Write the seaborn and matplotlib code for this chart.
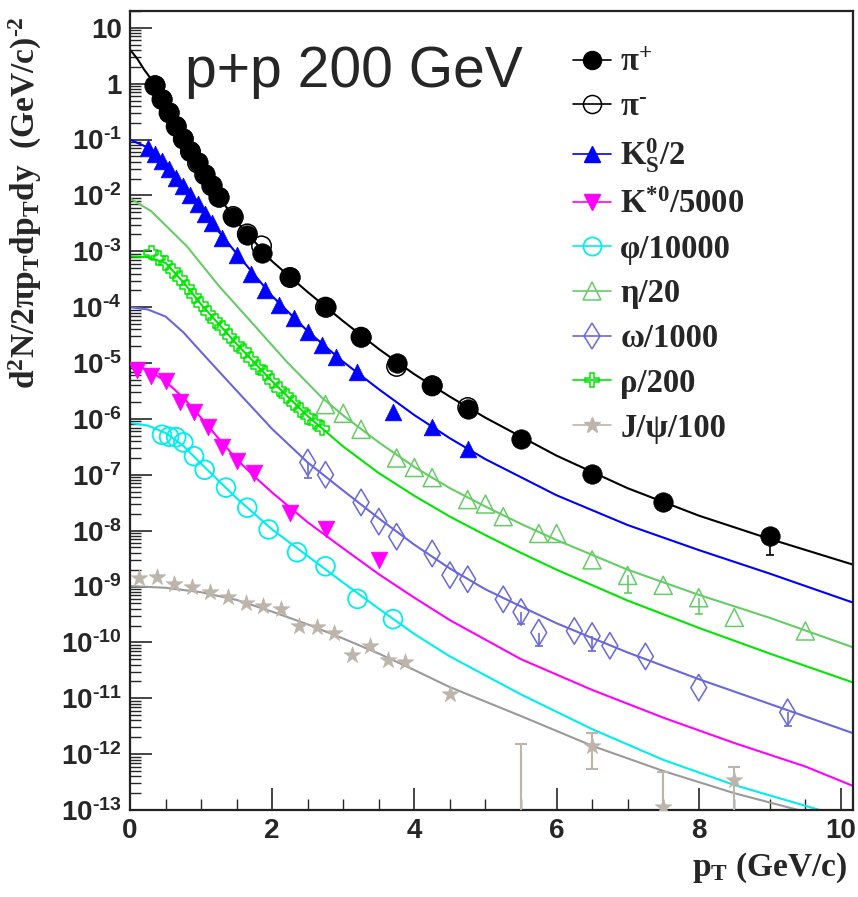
import numpy as np
import pandas as pd
import matplotlib
matplotlib.use("Agg")
import matplotlib.pyplot as plt
import seaborn as sns
from matplotlib.lines import Line2D
from matplotlib.ticker import LogLocator, NullFormatter, MultipleLocator, FixedLocator

# ---------------- data ----------------
pip_pt = [0.35, 0.45, 0.55, 0.65, 0.75, 0.85, 0.95, 1.05, 1.15, 1.25, 1.45, 1.65, 1.85,
          2.25, 2.75, 3.25, 3.75, 4.25, 4.75, 5.5, 6.5, 7.5, 9.0]
pip_y = [0.95, 0.54, 0.31, 0.178, 0.105, 0.063, 0.039, 0.024, 0.0151, 0.0095, 0.0041, 0.00195, 9.5e-4,
         3.5e-4, 1.02e-4, 2.95e-5, 1.0e-5, 4.0e-6, 1.48e-6, 4.3e-7, 1.05e-7, 3.2e-8, 7.9e-9]
pip_elo = [0]*22 + [4.2e-9]

pim_pt = [0.35, 0.45, 0.55, 0.65, 0.75, 0.85, 0.95, 1.05, 1.15, 1.25, 1.45, 1.65, 1.85,
          2.25, 2.75, 3.25, 3.75, 4.25, 4.75]
pim_y = [0.92, 0.52, 0.30, 0.172, 0.102, 0.061, 0.038, 0.0235, 0.0148, 0.0093, 0.0042, 0.00205, 1.25e-3,
         3.4e-4, 1.0e-4, 2.9e-5, 8.7e-6, 3.9e-6, 1.6e-6]

pi_curve_pt = [0, 0.1, 0.2, 0.3, 0.4, 0.6, 0.8, 1.0, 1.25, 1.5, 2.0, 2.5, 3.0, 3.5, 4.0, 4.5, 5.0,
               6.0, 7.0, 8.0, 9.0, 10.2]
pi_curve_y = [4.07, 2.82, 1.78, 1.20, 0.72, 0.24, 0.081, 0.030, 0.0095, 3.4e-3, 6.6e-4, 1.86e-4,
              5.6e-5, 1.78e-5, 6.3e-6, 2.5e-6, 1.05e-6, 2.2e-7, 5.75e-8, 1.86e-8, 7.1e-9, 2.4e-9]

k0s_pt = [0.25, 0.35, 0.45, 0.55, 0.65, 0.75, 0.85, 0.95, 1.05, 1.15, 1.3, 1.5, 1.7, 1.9, 2.1,
          2.3, 2.5, 2.7, 2.9, 3.2, 3.7, 4.25, 4.75]
k0s_y = [0.072, 0.055, 0.041, 0.0295, 0.0209, 0.0145, 0.0100, 0.0069, 0.0047, 0.0032, 1.74e-3,
         8.7e-4, 4.0e-4, 2.04e-4, 1.10e-4, 6.5e-5, 3.6e-5, 2.14e-5, 1.26e-5, 6.8e-6, 1.35e-6,
         7.2e-7, 2.95e-7]
k0s_curve_pt = [0, 0.25, 0.5, 0.75, 1.0, 1.25, 1.5, 2.0, 2.5, 3.0, 3.5, 4.0, 4.5, 5.0, 6.0, 7.0,
                8.0, 9.0, 10.2]
k0s_curve_y = [0.1, 0.072, 0.0347, 0.0145, 5.6e-3, 2.24e-3, 9.1e-4, 1.58e-4, 3.7e-5, 1.05e-5,
               3.4e-6, 1.17e-6, 4.5e-7, 1.9e-7, 4.3e-8, 1.26e-8, 4.5e-9, 1.7e-9, 5.0e-10]

kst_pt = [0.1, 0.3, 0.5, 0.7, 0.9, 1.1, 1.3, 1.5, 1.75, 2.25, 2.75, 3.5]
kst_y = [7.6e-6, 5.8e-6, 4.7e-6, 2.0e-6, 1.35e-6, 7.2e-7, 3.2e-7, 1.74e-7, 1.07e-7, 2.1e-8,
         1.05e-8, 3.0e-9]
kst_curve_pt = [0, 0.25, 0.5, 0.75, 1.0, 1.25, 1.5, 1.75, 2.0, 2.5, 3.0, 3.5, 4.0, 4.5, 5.5,
                6.5, 7.5, 8.5, 9.5, 10.2]
kst_curve_y = [9.5e-6, 7.6e-6, 4.7e-6, 2.4e-6, 1.05e-6, 4.4e-7, 1.9e-7, 9.3e-8, 4.8e-8, 1.41e-8,
               4.8e-9, 1.66e-9, 6.3e-10, 2.5e-10, 5.0e-11, 1.41e-11, 4.5e-12, 1.58e-12,
               6.0e-13, 2.6e-13]

phi_pt = [0.45, 0.55, 0.65, 0.75, 0.9, 1.05, 1.35, 1.65, 1.95, 2.35, 2.75, 3.2, 3.7]
phi_y = [5.2e-7, 4.8e-7, 4.7e-7, 3.8e-7, 2.15e-7, 1.23e-7, 5.9e-8, 2.57e-8, 1.05e-8, 4.1e-9,
         2.3e-9, 6.0e-10, 2.6e-10]
phi_curve_pt = [0, 0.25, 0.5, 0.75, 1.0, 1.5, 2.0, 2.5, 3.0, 3.5, 4.0, 4.5, 5.5, 6.5, 7.5, 8.5,
                9.7, 10.2]
phi_curve_y = [8.5e-7, 7.6e-7, 5.6e-7, 3.3e-7, 1.58e-7, 3.8e-8, 1.05e-8, 3.5e-9, 1.17e-9,
               4.0e-10, 1.41e-10, 5.6e-11, 1.17e-11, 2.8e-12, 7.9e-13, 2.8e-13, 1.0e-13, 6.3e-14]

eta_pt = [2.75, 3.0, 3.25, 3.75, 4.0, 4.25, 4.75, 5.0, 5.25, 5.75, 6.0, 6.5, 7.0, 7.5, 8.0,
          8.5, 9.5]
eta_y = [1.8e-6, 1.26e-6, 6.5e-7, 2.0e-7, 1.35e-7, 8.9e-8, 3.6e-8, 3.0e-8, 1.78e-8, 8.9e-9,
         8.9e-9, 3.0e-9, 1.58e-9, 1.05e-9, 6.3e-10, 2.8e-10, 1.6e-10]
eta_elo = [0]*12 + [8.0e-10, 0, 3.1e-10, 0, 0]
eta_curve_pt = [0, 0.3, 0.8, 1.25, 1.75, 2.2, 2.7, 3.0, 3.5, 4.0, 4.5, 5.0, 5.5, 6.0, 7.0, 8.0,
                9.0, 10.2]
eta_curve_y = [8.9e-3, 5.2e-3, 1.23e-3, 2.4e-4, 4.7e-5, 1.07e-5, 2.4e-6, 1.15e-6, 3.8e-7,
               1.38e-7, 5.75e-8, 2.7e-8, 1.32e-8, 6.8e-9, 2.0e-9, 7.1e-10, 2.75e-10, 7.9e-11]

omega_pt = [2.5, 2.75, 3.25, 3.5, 3.75, 4.25, 4.5, 4.75, 5.25, 5.5, 5.75, 6.25, 6.5, 6.75,
            7.25, 8.0, 9.25]
omega_y = [1.66e-7, 1.0e-7, 3.2e-8, 1.45e-8, 7.8e-9, 3.9e-9, 1.6e-9, 1.35e-9, 5.9e-10, 3.5e-10,
           1.5e-10, 1.6e-10, 1.3e-10, 8.7e-11, 5.6e-11, 1.55e-11, 5.6e-12]
omega_elo = [7.7e-8, 0, 0, 0, 0, 0, 0, 0, 0, 1.4e-10, 6.5e-11, 0, 6.1e-11, 0, 0, 0, 2.4e-12]
omega_curve_pt = [0, 0.25, 0.5, 0.75, 1.0, 1.5, 2.0, 2.5, 3.0, 3.5, 4.0, 4.5, 5.0, 5.5, 6.0,
                  6.5, 7.0, 8.0, 9.0, 10.2]
omega_curve_y = [1.0e-4, 9.1e-5, 6.8e-5, 3.55e-5, 1.58e-5, 3.2e-6, 6.6e-7, 1.66e-7, 5.2e-8,
                 1.66e-8, 5.6e-9, 2.1e-9, 8.9e-10, 4.4e-10, 2.2e-10, 1.2e-10, 6.6e-11, 2.2e-11,
                 7.9e-12, 2.3e-12]

rho_pt = [0.3, 0.4, 0.5, 0.6, 0.7, 0.8, 0.9, 1.0, 1.1, 1.2, 1.3, 1.4, 1.5, 1.6, 1.7, 1.8, 1.9,
          2.0, 2.1, 2.2, 2.3, 2.4, 2.5, 2.6, 2.7]
rho_y = [9.5e-4, 7.6e-4, 6.2e-4, 4.5e-4, 3.3e-4, 2.3e-4, 1.58e-4, 1.12e-4, 7.9e-5, 5.75e-5,
         4.3e-5, 3.0e-5, 2.2e-5, 1.66e-5, 1.17e-5, 8.5e-6, 6.6e-6, 4.7e-6, 3.4e-6, 2.6e-6,
         1.9e-6, 1.45e-6, 1.1e-6, 8.7e-7, 6.8e-7]
rho_curve_pt = [0, 0.25, 0.5, 0.75, 1.0, 1.5, 2.0, 2.5, 3.0, 3.5, 4.0, 4.5, 5.0, 5.5, 6.0, 7.0,
                8.0, 9.0, 10.2]
rho_curve_y = [8.1e-4, 7.9e-4, 6.2e-4, 2.8e-4, 1.12e-4, 2.2e-5, 4.7e-6, 1.12e-6, 3.2e-7,
               1.07e-7, 4.2e-8, 1.78e-8, 8.3e-9, 4.0e-9, 2.0e-9, 5.6e-10, 1.82e-10, 6.3e-11,
               1.86e-11]

jpsi_pt = [0.125, 0.375, 0.625, 0.875, 1.125, 1.375, 1.625, 1.875, 2.125, 2.375, 2.625, 2.875,
           3.125, 3.375, 3.625, 3.875, 4.5, 5.5, 6.5, 7.5, 8.5]
jpsi_y = [1.45e-9, 1.5e-9, 1.1e-9, 1.0e-9, 8.1e-10, 6.6e-10, 5.1e-10, 4.4e-10, 3.9e-10, 2.0e-10,
          1.9e-10, 1.5e-10, 6.0e-11, 8.5e-11, 4.9e-11, 4.4e-11, 1.17e-11, 4e-14, 1.38e-12,
          1.15e-13, 3.5e-13]
jpsi_elo = [0]*17 + [0, 8.4e-13, 1.1e-13, 3.4e-13]
jpsi_ehi = [0]*17 + [1.46e-12, 1.0e-12, 3.6e-13, 2.3e-13]
jpsi_curve_pt = [0, 0.5, 1.0, 1.5, 2.0, 2.5, 3.0, 3.5, 4.0, 4.5, 5.5, 6.5, 7.5, 8.5, 9.4, 10.2]
jpsi_curve_y = [1.02e-9, 9.5e-10, 7.9e-10, 5.75e-10, 3.55e-10, 2.1e-10, 1.17e-10, 6.3e-11,
                3.2e-11, 1.58e-11, 4.8e-12, 1.41e-12, 5.0e-13, 2.0e-13, 1.0e-13, 5e-14]

HY = "\u2010"  # short hyphen as in the reference exponents
legend_labels = ["π$^{+}$", "π$^{" + HY + "}$", "K$^{0}_{S}$/2", "K$^{*0}$/5000", "φ/10000",
                 "η/20", "ω/1000", "ρ/200", "J/ψ/100"]
ytick_vals = [10.0 ** k for k in range(1, -14, -1)]
ytick_labels = ["10", "1"] + ["10$^{" + HY + "%d}$" % k for k in range(1, 14)]
xtick_vals = [0, 2, 4, 6, 8, 10]
xtick_labels = ["0", "2", "4", "6", "8", "10"]

# ---------------- style ----------------
sns.set_style("ticks")
plt.rcParams["font.family"] = ["Liberation Sans", "DejaVu Sans"]
plt.rcParams["font.weight"] = "bold"
plt.rcParams["mathtext.default"] = "regular"

C_PI = "black"
C_K0 = "#0000ff"
C_KST = "#ff00ff"
C_PHI = "#00eeee"
C_ETA = "#66cc66"
C_OM = "#6868dc"
C_RHO = "#00e600"
C_JPSI_M = "#bdb5ab"
C_JPSI_L = "#9a9a9a"

fig = plt.figure(figsize=(8.58, 8.97), dpi=100)
ax = fig.add_axes([130 / 858, 1 - 810 / 897, 723 / 858, 799 / 897])
ax.set_yscale("log")

LW = 1.5
curves = [
    (pi_curve_pt, pi_curve_y, C_PI),
    (k0s_curve_pt, k0s_curve_y, C_K0),
    (kst_curve_pt, kst_curve_y, C_KST),
    (phi_curve_pt, phi_curve_y, C_PHI),
    (eta_curve_pt, eta_curve_y, C_ETA),
    (omega_curve_pt, omega_curve_y, C_OM),
    (rho_curve_pt, rho_curve_y, C_RHO),
    (jpsi_curve_pt, jpsi_curve_y, C_JPSI_L),
]
for xs, ys, c in curves:
    sns.lineplot(x=xs, y=ys, ax=ax, color=c, lw=LW, estimator=None, sort=False, zorder=2)

# error bars
def lower_bars(xs, ys, elo, color):
    xs2 = [x for x, e in zip(xs, elo) if e > 0]
    ys2 = [y for y, e in zip(ys, elo) if e > 0]
    lo = [e for e in elo if e > 0]
    ax.errorbar(xs2, ys2, yerr=[lo, [0] * len(lo)], fmt="none", ecolor=color, elinewidth=1.2,
                capsize=0, zorder=3)
    ax.scatter(xs2, [y - e for y, e in zip(ys2, lo)], marker="_", s=40, color=color,
               linewidths=1.2, zorder=3)

lower_bars(pip_pt, pip_y, pip_elo, C_PI)
lower_bars(eta_pt, eta_y, eta_elo, C_ETA)
lower_bars(omega_pt, omega_y, omega_elo, C_OM)
jx = [x for x, e in zip(jpsi_pt, jpsi_ehi) if e > 0]
jy = [y for y, e in zip(jpsi_y, jpsi_ehi) if e > 0]
jlo = [l for l, e in zip(jpsi_elo, jpsi_ehi) if e > 0]
jhi = [e for e in jpsi_ehi if e > 0]
ax.errorbar(jx, jy, yerr=[jlo, jhi], fmt="none", ecolor=C_JPSI_M, elinewidth=1.5, capsize=4,
            capthick=1.5, zorder=3)

# markers
def sc(xs, ys, marker, ms, face, edge, lw=1.2):
    sns.scatterplot(x=xs, y=ys, ax=ax, marker=marker, s=ms ** 2, facecolor=face,
                    edgecolor=edge, linewidth=lw, zorder=4, legend=False)

sc(jpsi_pt, jpsi_y, "*", 12.5, C_JPSI_M, C_JPSI_M, 0.5)
sc(rho_pt, rho_y, "P", 10, "none", C_RHO, 1.1)
sc(omega_pt, omega_y, "d", 13.5, "none", C_OM, 1.1)
sc(eta_pt, eta_y, "^", 13, "none", C_ETA, 1.1)
sc(phi_pt, phi_y, "o", 13.5, "none", C_PHI, 1.3)
sc(kst_pt, kst_y, "v", 12, C_KST, C_KST, 0.5)
sc(k0s_pt, k0s_y, "^", 12, C_K0, C_K0, 0.5)
sc(pim_pt, pim_y, "o", 14, "none", C_PI, 1.1)
sc(pip_pt, pip_y, "o", 14, C_PI, C_PI, 0.5)

# axes
ax.set_xlim(0, 10.17)
ax.set_ylim(1e-13, 20)
ax.yaxis.set_major_locator(FixedLocator(ytick_vals))
ax.set_yticklabels(ytick_labels)
ax.yaxis.set_minor_locator(LogLocator(base=10, subs=np.arange(2, 10), numticks=100))
ax.yaxis.set_minor_formatter(NullFormatter())
ax.set_xticks(xtick_vals)
ax.set_xticklabels(xtick_labels)
ax.xaxis.set_minor_locator(MultipleLocator(0.5))
ax.tick_params(axis="both", which="major", direction="in", length=16, width=1.2,
               labelsize=20, pad=6, top=False, right=False)
ax.tick_params(axis="both", which="minor", direction="in", length=8, width=1.0,
               top=False, right=False)
for lab in ax.get_xticklabels() + ax.get_yticklabels():
    lab.set_fontweight("bold")
for s in ax.spines.values():
    s.set_linewidth(1.6)
    s.set_color("#222222")
ax.set_xlabel("")
ax.set_ylabel("")

serif = ["Liberation Serif", "DejaVu Serif"]
fig.text(0.030, 1 - 16 / 897, "d$^{2}$N/2πp$_{T}$dp$_{T}$dy  (GeV/c)$^{" + HY + "2}$",
         rotation=90, ha="center", va="top", fontsize=24, fontfamily=serif, fontweight="bold")
fig.text(0.988, 1 - 868 / 897, "p$_{T}$ (GeV/c)", ha="right", va="center", fontsize=24,
         fontfamily=serif, fontweight="bold")
fig.text(185 / 858, 1 - 87 / 897, "p+p 200 GeV", ha="left", va="baseline", fontsize=41,
         fontfamily=["Liberation Sans"], fontweight="normal")

handles = [
    Line2D([0], [0], color=C_PI, lw=1.2, marker="o", ms=13, mfc=C_PI, mec=C_PI),
    Line2D([0], [0], color=C_PI, lw=1.2, marker="o", ms=13, mfc="none", mec=C_PI, mew=1.1),
    Line2D([0], [0], color=C_K0, lw=1.2, marker="^", ms=12, mfc=C_K0, mec=C_K0),
    Line2D([0], [0], color=C_KST, lw=1.2, marker="v", ms=12, mfc=C_KST, mec=C_KST),
    Line2D([0], [0], color=C_PHI, lw=1.2, marker="o", ms=13, mfc="none", mec=C_PHI, mew=1.3),
    Line2D([0], [0], color=C_ETA, lw=1.2, marker="^", ms=13, mfc="none", mec=C_ETA, mew=1.1),
    Line2D([0], [0], color=C_OM, lw=1.2, marker="d", ms=13, mfc="none", mec=C_OM, mew=1.1),
    Line2D([0], [0], color=C_RHO, lw=1.2, marker="P", ms=10, mfc="none", mec=C_RHO, mew=1.1),
    Line2D([0], [0], color=C_JPSI_M, lw=1.2, marker="*", ms=12, mfc=C_JPSI_M, mec=C_JPSI_M),
]
leg = fig.legend(handles, legend_labels, loc="upper left",
                 bbox_to_anchor=(573 / 858, 1 - 47 / 897), frameon=False,
                 prop={"family": serif, "weight": "bold", "size": 23.5},
                 handlelength=1.15, handletextpad=0.3, labelspacing=0.42,
                 borderpad=0, borderaxespad=0)

fig.savefig("out.png", dpi=100)
